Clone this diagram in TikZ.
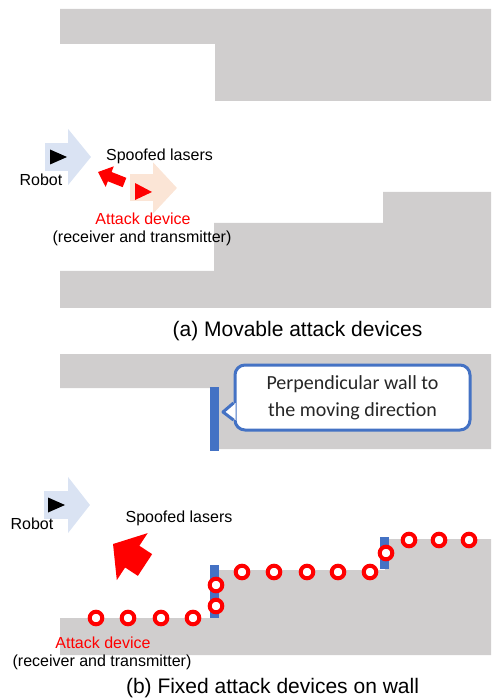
\documentclass[tikz,border=0pt]{standalone}
\usepackage{fontspec}
\setmainfont{Liberation Sans}
\newfontfamily\calloutfont{Carlito}
\usepackage{tikz}
\usetikzlibrary{arrows.meta,calc}
\definecolor{wallgray}{RGB}{208,206,206}
\definecolor{robotblue}{RGB}{218,227,243}
\definecolor{devorange}{RGB}{251,229,214}
\definecolor{wallblue}{RGB}{68,114,196}
\definecolor{calltext}{RGB}{38,38,38}
\tikzset{
  lbl/.style={inner sep=0pt, font=\fontsize{8}{9.6}\selectfont},
  captext/.style={inner sep=0pt, font=\fontsize{10.5}{12.6}\selectfont},
  callbox/.style={draw=wallblue, line width=1.5pt, fill=white, rounded corners=5pt,
    minimum width=117.5pt, minimum height=32.5pt, inner sep=0pt, align=center,
    text=calltext, font=\calloutfont\fontsize{10}{13.5}\selectfont},
  device/.style={draw=red, line width=2pt, fill=white}
}
\newcommand{\robotmark}[2]{
    % black triangle of the robot, left edge at #1, centre at #2
    \fill[black] (#1,#2-7.5) -- (#1+17,#2) -- (#1,#2+7.5) -- cycle;
}

\begin{document}
\begin{tikzpicture}[x=0.5pt,y=-0.5pt]
  \useasboundingbox (0,0) rectangle (491,699);

  % (a) Draw the walls
  \fill[wallgray] (60,9) -- (491,9) -- (491,101) -- (215,101) -- (215,44) -- (60,44) -- cycle;
  \fill[wallgray] (60,271) -- (214,271) -- (214,223) -- (383,223) -- (383,192)
    -- (491,192) -- (491,308) -- (60,308) -- cycle;

  % (a) Robot and moving attack device
  \draw[robotblue, line width=14pt, -{Triangle[length=11.5pt,width=27.5pt]}] (45,157) -- (91,157);
  \robotmark{50}{157}
  \draw[devorange, line width=13.5pt, -{Triangle[length=12pt,width=25pt]}] (130,188) -- (177,188);
  \fill[red] (135,183) -- (152,192) -- (135,200) -- cycle;
  \draw[red, line width=5pt, -{Triangle[length=6.3pt,width=10.7pt]}] (124.5,182.5) -- (98,172);

  \node[lbl] (robotA) at (41,180) {Robot};
  \node[lbl] (laserA) at (159.5,156) {Spoofed lasers};
  \node[lbl, text=red] (devA) at (143,219) {Attack device};
  \node[lbl] (devAsub) at (142,238) {(receiver and transmitter)};
  \node[captext] (capA) at (297.5,331) {(a) Movable attack devices};

  % (b) Draw the walls
  \fill[wallgray] (60,354) -- (491,354) -- (491,449) -- (215,449) -- (215,388) -- (60,388) -- cycle;
  \fill[wallgray] (60,618) -- (215,618) -- (215,570) -- (385,570) -- (385,539)
    -- (491,539) -- (491,655) -- (60,655) -- cycle;

  % Perpendicular walls
  \fill[wallblue] (210,387) rectangle (219,451);
  \fill[wallblue] (210,565) rectangle (219,618);
  \fill[wallblue] (380,537) rectangle (389,569);

  % Callout
  \node[callbox] (note) at (352.5,397.5) {Perpendicular wall to\\the moving direction};
  \coordinate (tipp) at (223,412);
  \fill[white] ($(note.west)+(2,5.5)$) -- (tipp) -- ($(note.west)+(2,22.5)$) -- cycle;
  \draw[wallblue, line width=1.5pt, line join=round]
    ($(note.west)+(0,5.5)$) -- (tipp) -- ($(note.west)+(0,22.5)$);

  % (b) Robot and spoofed lasers
  \draw[robotblue, line width=14pt, -{Triangle[length=11pt,width=27.5pt]}] (44,505) -- (90,505);
  \robotmark{48}{505}
  \draw[red, line width=13pt, -{Triangle[length=11.5pt,width=27.5pt]}] (145,565) -- (113,544);

  % Fixed attack devices on the wall
  \foreach \x/\y in {96/618,128/618,161/618,193/618,216/606,216/585,242/572,274/572,
    307/572,338/572,370/572,386/553,409/540,439/540,469/540} {
    \draw[device] (\x,\y) circle [radius=6.3];
  }

  \node[lbl] (robotB) at (32,524) {Robot};
  \node[lbl] (laserB) at (179,518) {Spoofed lasers};
  \node[lbl, text=red] (devB) at (103,643) {Attack device};
  \node[lbl] (devBsub) at (102,662) {(receiver and transmitter)};
  \node[captext] (capB) at (272.5,688) {(b) Fixed attack devices on wall};
\end{tikzpicture}
\end{document}
